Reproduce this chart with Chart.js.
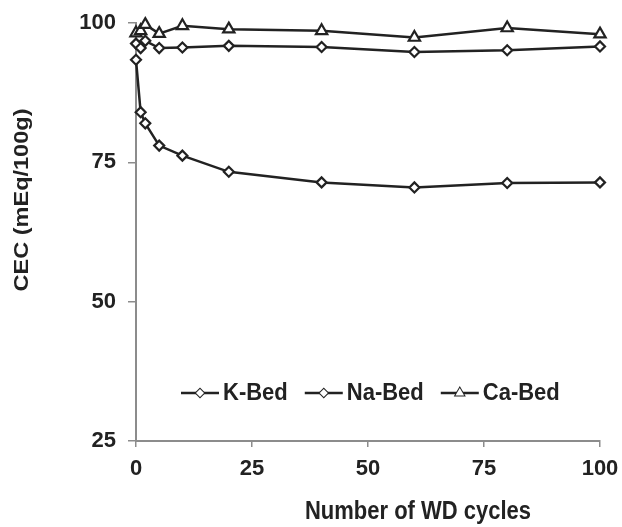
<!DOCTYPE html>
<html>
<head>
<meta charset="utf-8">
<script src="https://cdn.jsdelivr.net/npm/chart.js@4/dist/chart.umd.min.js"></script>
<style>
  html, body { margin: 0; padding: 0; background: #fff; }
  #wrap { width: 622px; height: 527px; }
</style>
</head>
<body>
<div id="wrap"><canvas id="c" width="622" height="527"></canvas></div>
<script>
// ---- data ----
const cycles = [0, 1, 2, 5, 10, 20, 40, 60, 80, 100];
const kBed  = [93.4, 84.0, 82.0, 78.0, 76.2, 73.3, 71.4, 70.5, 71.3, 71.4];
const naBed = [96.3, 95.5, 96.8, 95.5, 95.6, 95.9, 95.7, 94.8, 95.1, 95.8];
const caBed = [98.2, 98.6, 99.7, 98.1, 99.5, 98.9, 98.6, 97.4, 99.1, 98.0];
const seriesNames = ['K-Bed', 'Na-Bed', 'Ca-Bed'];
const yTicks = [25, 50, 75, 100];
const xTicks = [0, 25, 50, 75, 100];
const xTitle = 'Number of WD cycles';
const yTitle = 'CEC (mEq/100g)';

const INK = '#222222';
const AXIS = '#8c8c8c';
const FONT = '"Liberation Sans", Arial, sans-serif';

function pts(vals) { return cycles.map((c, i) => ({ x: c, y: vals[i] })); }

function ds(label, vals, style, radius) {
  return {
    label, data: pts(vals),
    borderColor: INK, borderWidth: 2.5,
    pointStyle: style, pointRadius: radius,
    pointBackgroundColor: '#fff', pointBorderColor: INK, pointBorderWidth: 2.2,
    tension: 0, clip: false, fill: false
  };
}

const titlesAndLegend = {
  id: 'titlesAndLegend',
  afterDraw(chart) {
    const ctx = chart.ctx;
    ctx.save();
    ctx.fillStyle = INK;
    ctx.font = 'bold 22px ' + FONT;
    ctx.textBaseline = 'middle';
    // x title
    ctx.save();
    ctx.translate(418, 512);
    ctx.scale(1, 1.15);
    ctx.textAlign = 'center';
    ctx.fillText(xTitle, 0, 0);
    ctx.restore();
    // y title
    ctx.save();
    ctx.translate(22, 200);
    ctx.rotate(-Math.PI / 2);
    ctx.scale(1.12, 1);
    ctx.textAlign = 'center';
    ctx.font = 'bold 21px ' + FONT;
    ctx.fillText(yTitle, 0, 0);
    ctx.restore();
    // legend
    const y = 393;
    let x = 181;
    ctx.font = 'bold 22px ' + FONT;
    ctx.textAlign = 'left';
    const styles = ['rectRot', 'rectRot', 'triangle'];
    seriesNames.forEach((name, i) => {
      ctx.strokeStyle = INK;
      ctx.lineWidth = 2.5;
      ctx.beginPath(); ctx.moveTo(x, y); ctx.lineTo(x + 38, y); ctx.stroke();
      ctx.lineWidth = 2;
      ctx.fillStyle = '#fff';
      Chart.helpers.drawPoint(ctx, {
        pointStyle: styles[i], radius: styles[i] === 'triangle' ? 5 : 4,
        borderWidth: 2, rotation: 0
      }, x + 19, y);
      ctx.fill();
      ctx.fillStyle = INK;
      ctx.save();
      ctx.translate(x + 42, y);
      ctx.scale(1, 1.12);
      ctx.fillText(name, 0, 0);
      ctx.restore();
      x += 42 + ctx.measureText(name).width + 17;
    });
    ctx.restore();
  }
};

new Chart(document.getElementById('c'), {
  type: 'line',
  data: {
    datasets: [
      ds(seriesNames[0], kBed, 'rectRot', 5),
      ds(seriesNames[1], naBed, 'rectRot', 5),
      ds(seriesNames[2], caBed, 'triangle', 6.5)
    ]
  },
  options: {
    responsive: false,
    animation: false,
    devicePixelRatio: 1,
    layout: { padding: { top: 23, right: 22, left: 0, bottom: 0 } },
    plugins: { legend: { display: false }, tooltip: { enabled: false } },
    scales: {
      x: {
        type: 'linear', min: 0, max: 100,
        afterBuildTicks: s => { s.ticks = xTicks.map(v => ({ value: v })); },
        afterFit: s => { s.height = 86; s.paddingLeft = 0; s.paddingRight = 0; },
        grid: { display: true, drawOnChartArea: false, drawTicks: true, tickLength: 6, color: AXIS, lineWidth: 1.5 },
        border: { display: true, color: AXIS, width: 2 },
        ticks: { color: INK, font: { family: FONT, size: 22, weight: 'bold' }, padding: 9, maxRotation: 0 }
      },
      y: {
        type: 'linear', min: 25, max: 100,
        afterBuildTicks: s => { s.ticks = yTicks.map(v => ({ value: v })); },
        afterFit: s => { s.width = 136; s.paddingTop = 0; s.paddingBottom = 0; },
        grid: { display: true, drawOnChartArea: false, drawTicks: true, tickLength: 8, color: AXIS, lineWidth: 1.5 },
        border: { display: true, color: AXIS, width: 2 },
        ticks: { color: INK, font: { family: FONT, size: 22, weight: 'bold' }, padding: 12 }
      }
    }
  },
  plugins: [titlesAndLegend]
});
</script>
</body>
</html>
